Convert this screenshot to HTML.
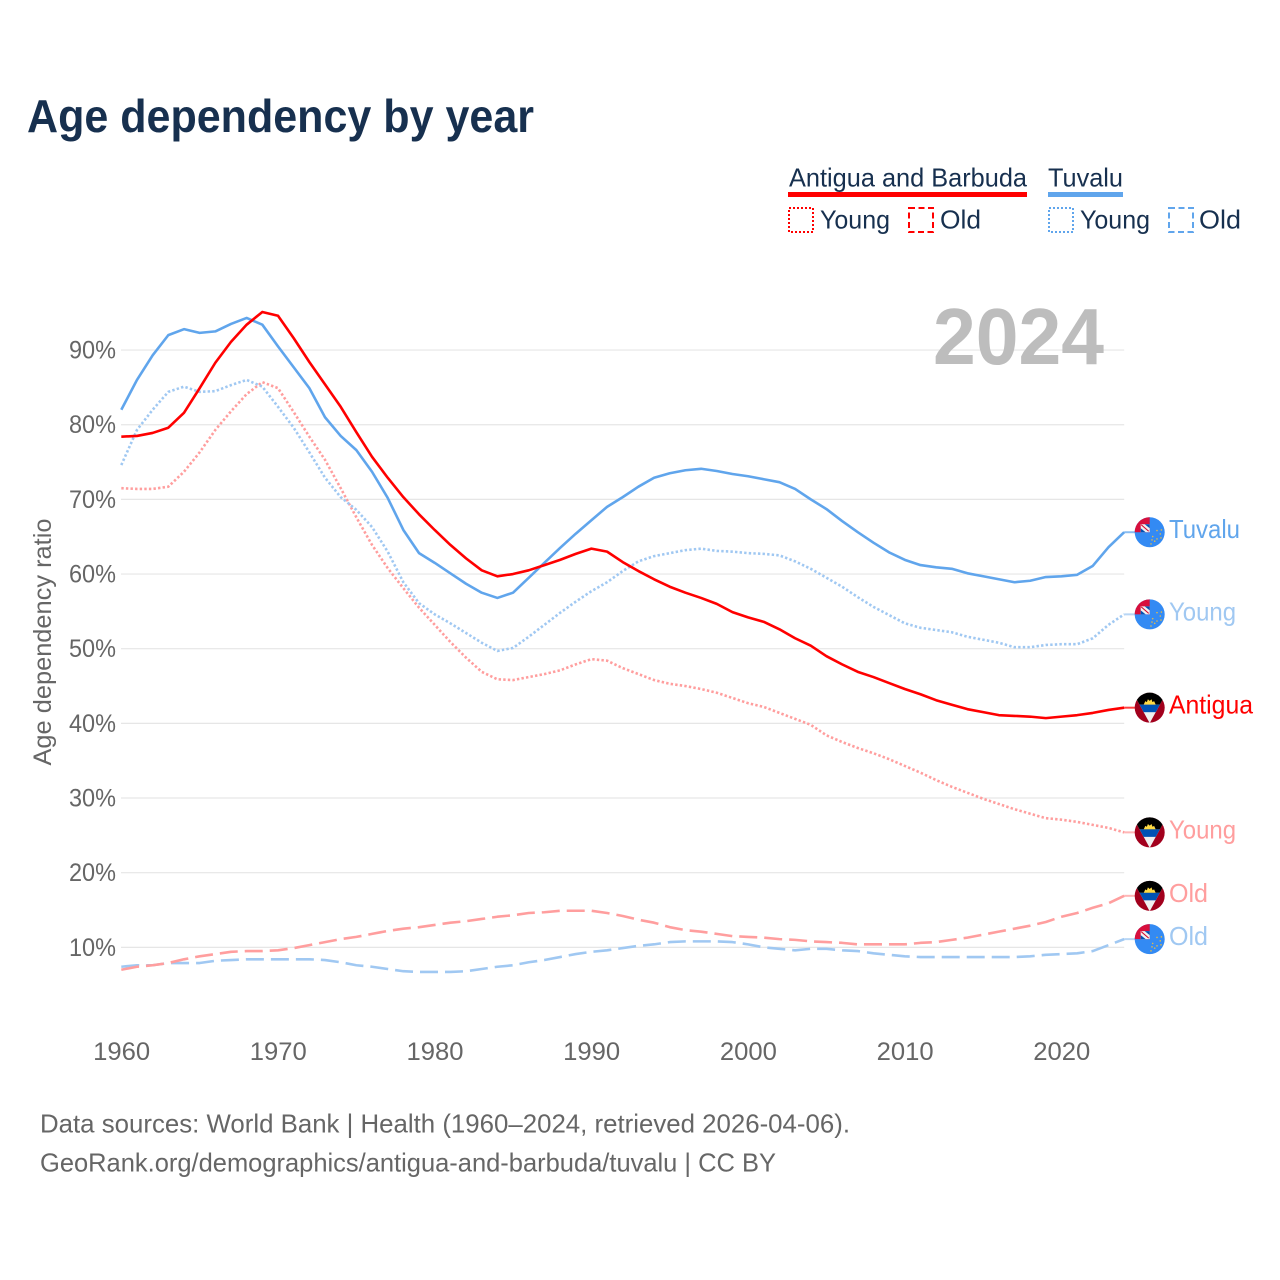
<!DOCTYPE html>
<html lang="en">
<head>
<meta charset="utf-8">
<title>Age dependency by year</title>
<style>
html,body{margin:0;padding:0;background:#fff;width:1280px;height:1280px;overflow:hidden}
svg{display:block}
text{font-family:"Liberation Sans",sans-serif}
</style>
</head>
<body>
<svg id="chart" width="1280" height="1280" viewBox="0 0 1280 1280" xmlns="http://www.w3.org/2000/svg">
  <defs>
    <clipPath id="flag-clip"><circle cx="0" cy="0" r="15"></circle></clipPath>
    <g id="flag-tuvalu" clip-path="url(#flag-clip)">
      <rect x="-16" y="-16" width="32" height="32" fill="#338af3"></rect>
      <rect x="-16" y="-16" width="16" height="16" fill="#d80f3c"></rect>
      <rect x="-9" y="-8" width="9" height="8" fill="#f0f0f0"></rect>
      <polygon points="-9,-4 -4,0 -9,0" fill="#0052b4"></polygon>
      <polygon points="-5,-8 0,-8 0,-4" fill="#0052b4"></polygon>
      <line x1="-8.5" y1="-7.5" x2="-1" y2="-1" stroke="#d80027" stroke-width="1"></line>
      <g fill="#e3b94a">
        <circle cx="7.3" cy="-1.7" r="0.8"></circle><circle cx="11.7" cy="-2.3" r="0.8"></circle>
        <circle cx="3" cy="4.3" r="0.8"></circle><circle cx="10.6" cy="1.7" r="0.8"></circle>
        <circle cx="7.3" cy="6.7" r="0.8"></circle><circle cx="2.3" cy="7.7" r="0.8"></circle>
        <circle cx="5" cy="9" r="0.8"></circle><circle cx="1.3" cy="11.7" r="0.8"></circle>
        <circle cx="11.3" cy="5.7" r="0.8"></circle>
      </g>
    </g>
    <g id="flag-antigua" clip-path="url(#flag-clip)">
      <rect x="-16" y="-16" width="32" height="32" fill="#a2001d"></rect>
      <polygon points="-17,-15.5 17,-15.5 0,15.5" fill="#f0f0f0"></polygon>
      <clipPath id="flag-tri"><polygon points="-17,-15.5 17,-15.5 0,15.5"></polygon></clipPath>
      <g clip-path="url(#flag-tri)">
        <rect x="-16" y="-16" width="32" height="13" fill="#000"></rect>
        <polygon points="-6,-3 -4.4,-6.5 -2.8,-5.6 -1.8,-8.4 0,-6.8 1.8,-8.4 2.8,-5.6 4.4,-6.5 6,-3" fill="#ffda44"></polygon>
        <rect x="-16" y="-3" width="32" height="7.5" fill="#0052b4"></rect>
      </g>
    </g>
  </defs>

  <text x="27" y="132" font-size="46" font-weight="700" fill="#17304f" textLength="507" lengthAdjust="spacingAndGlyphs">Age dependency by year</text>

  <g font-size="26" fill="#17304f">
    <text x="789" y="186.5" textLength="238" lengthAdjust="spacingAndGlyphs">Antigua and Barbuda</text>
    <rect x="788" y="192" width="239" height="5" fill="#ff0000"></rect>
    <text x="1048" y="186.5" textLength="75" lengthAdjust="spacingAndGlyphs">Tuvalu</text>
    <rect x="1048" y="192" width="75" height="5" fill="#60a5ec"></rect>
    <rect x="789" y="208" width="24" height="24" fill="none" stroke="#ff0000" stroke-width="2" stroke-dasharray="2 2"></rect>
    <text x="820" y="228.5" textLength="70" lengthAdjust="spacingAndGlyphs">Young</text>
    <rect x="909" y="208" width="24" height="24" fill="none" stroke="#ff0000" stroke-width="2" stroke-dasharray="6 3.5"></rect>
    <text x="940" y="228.5" textLength="41" lengthAdjust="spacingAndGlyphs">Old</text>
    <rect x="1049" y="208" width="24" height="24" fill="none" stroke="#60a5ec" stroke-width="2" stroke-dasharray="2 2"></rect>
    <text x="1080" y="228.5" textLength="70" lengthAdjust="spacingAndGlyphs">Young</text>
    <rect x="1169" y="208" width="24" height="24" fill="none" stroke="#60a5ec" stroke-width="2" stroke-dasharray="6 3.5"></rect>
    <text x="1199" y="228.5" textLength="42" lengthAdjust="spacingAndGlyphs">Old</text>
  </g>

  <g id="grid"></g>
  <g id="yticks"></g>
  <g id="xticks"></g>

  <text x="933" y="364" font-size="80" font-weight="700" fill="#bdbdbd" textLength="171" lengthAdjust="spacingAndGlyphs">2024</text>

  <text transform="translate(51,642) rotate(-90)" text-anchor="middle" font-size="25" fill="#666666" textLength="247" lengthAdjust="spacingAndGlyphs">Age dependency ratio</text>

  <g id="series"></g>
  <g id="endmarks"></g>

  <g font-size="26" fill="#666666">
    <text x="40" y="1132.5" textLength="810" lengthAdjust="spacingAndGlyphs">Data sources: World Bank | Health (1960–2024, retrieved 2026-04-06).</text>
    <text x="40" y="1171.5" textLength="736" lengthAdjust="spacingAndGlyphs">GeoRank.org/demographics/antigua-and-barbuda/tuvalu | CC BY</text>
  </g>
</svg>

<script>
const firstYear = 1960;
const xTickYears = [1960, 1970, 1980, 1990, 2000, 2010, 2020];
const yTickValues = [10, 20, 30, 40, 50, 60, 70, 80, 90];

const tuvaluTotal = [82.0,86.0,89.3,92.0,92.8,92.3,92.5,93.5,94.3,93.4,
  90.5,87.7,84.9,81.0,78.5,76.6,73.7,70.2,65.9,62.8,
  61.5,60.1,58.7,57.5,56.8,57.5,59.5,61.5,63.5,65.4,
  67.2,69.0,70.3,71.7,72.9,73.5,73.9,74.1,73.8,73.4,
  73.1,72.7,72.3,71.4,70.0,68.7,67.1,65.6,64.2,62.9,
  61.9,61.2,60.9,60.7,60.1,59.7,59.3,58.9,59.1,59.6,
  59.7,59.9,61.1,63.6,65.6];
const tuvaluYoung = [74.6,79.3,82.0,84.4,85.1,84.4,84.5,85.3,86.0,85.1,
  82.4,79.6,76.3,72.9,70.3,68.6,66.3,63.0,58.9,56.1,
  54.6,53.4,52.1,50.8,49.7,50.1,51.6,53.2,54.8,56.3,
  57.7,58.9,60.4,61.7,62.4,62.8,63.2,63.4,63.1,63.0,
  62.8,62.7,62.5,61.7,60.7,59.5,58.3,56.9,55.6,54.5,
  53.4,52.8,52.5,52.2,51.6,51.2,50.8,50.2,50.2,50.5,
  50.6,50.6,51.4,53.2,54.6];
const tuvaluOld = [7.4,7.6,7.6,7.9,7.9,7.9,8.2,8.3,8.4,8.4,
  8.4,8.4,8.4,8.3,8.0,7.6,7.4,7.1,6.8,6.7,
  6.7,6.7,6.8,7.1,7.4,7.6,8.0,8.3,8.7,9.1,
  9.4,9.6,9.9,10.2,10.4,10.7,10.8,10.8,10.8,10.7,
  10.4,10.0,9.8,9.6,9.8,9.8,9.6,9.5,9.2,9.0,
  8.8,8.7,8.7,8.7,8.7,8.7,8.7,8.7,8.8,9.0,
  9.1,9.2,9.5,10.3,11.1];
const antiguaTotal = [78.4,78.5,78.9,79.6,81.6,84.9,88.3,91.1,93.4,95.1,
  94.6,91.6,88.4,85.4,82.4,79.0,75.7,72.9,70.3,68.0,
  65.9,63.9,62.1,60.5,59.7,60.0,60.5,61.2,61.9,62.7,
  63.4,63.0,61.6,60.4,59.3,58.3,57.5,56.8,56.0,54.9,
  54.2,53.6,52.6,51.4,50.4,49.0,47.9,46.9,46.2,45.4,
  44.6,43.9,43.1,42.5,41.9,41.5,41.1,41.0,40.9,40.7,
  40.9,41.1,41.4,41.8,42.1];
const antiguaYoung = [71.5,71.4,71.4,71.7,73.7,76.3,79.3,81.8,84.1,85.7,
  84.9,81.7,78.4,75.3,71.5,67.6,63.9,60.8,58.1,55.5,
  53.2,50.9,48.8,46.9,45.9,45.8,46.2,46.6,47.1,47.9,
  48.6,48.4,47.4,46.6,45.8,45.3,45.0,44.6,44.1,43.4,
  42.7,42.2,41.4,40.6,39.8,38.4,37.5,36.7,36.0,35.2,
  34.3,33.4,32.4,31.5,30.7,29.9,29.2,28.5,27.9,27.3,
  27.1,26.8,26.4,26.0,25.4];
const antiguaOld = [7.0,7.4,7.6,7.9,8.4,8.8,9.1,9.4,9.5,9.5,
  9.6,9.9,10.3,10.7,11.1,11.4,11.8,12.2,12.5,12.7,
  13.0,13.3,13.5,13.8,14.1,14.3,14.6,14.7,14.9,14.9,
  14.9,14.6,14.2,13.7,13.3,12.7,12.3,12.1,11.8,11.5,
  11.4,11.3,11.1,11.0,10.8,10.7,10.6,10.4,10.4,10.4,
  10.4,10.6,10.7,11.0,11.3,11.7,12.1,12.5,12.9,13.4,
  14.1,14.6,15.3,15.9,16.9];

const NS = 'http://www.w3.org/2000/svg';
function xScale(year) { return 121.3 + (year - firstYear) * 15.67; }
function yScale(value) { return 1022 - value * 7.466; }
function make(tag, parent) {
  const el = document.createElementNS(NS, tag);
  parent.appendChild(el);
  return el;
}

const gridGroup = document.getElementById('grid');
const yTickGroup = document.getElementById('yticks');
const xTickGroup = document.getElementById('xticks');
const seriesGroup = document.getElementById('series');
const endGroup = document.getElementById('endmarks');

yTickValues.forEach(function (v) {
  const line = make('line', gridGroup);
  
  
  line.setAttribute('x1', 121);
  line.setAttribute('x2', xScale(2024));
  line.setAttribute('y1', yScale(v));
  line.setAttribute('y2', yScale(v));
  line.setAttribute('stroke', '#e6e6e6');
  line.setAttribute('stroke-width', '1.2');
  const label = make('text', yTickGroup);
  
  
  label.setAttribute('x', 69);
  label.setAttribute('y', yScale(v) + 8.5);
  label.setAttribute('font-size', '25');
  label.setAttribute('fill', '#666666');
  label.setAttribute('textLength', '47');
  label.setAttribute('lengthAdjust', 'spacingAndGlyphs');
  label.textContent = v + '%';
});

xTickYears.forEach(function (y) {
  const label = make('text', xTickGroup);
  
  
  label.setAttribute('x', xScale(y) - 28.2);
  label.setAttribute('y', 1060);
  label.setAttribute('font-size', '25');
  label.setAttribute('fill', '#666666');
  label.setAttribute('textLength', '57');
  label.setAttribute('lengthAdjust', 'spacingAndGlyphs');
  label.textContent = String(y);
});

function drawSeries(values, color, dash, seriesName) {
  const path = make('path', seriesGroup);
  
  
  const d = values.map(function (v, i) {
    return (i ? 'L' : 'M') + xScale(firstYear + i).toFixed(2) + ' ' + yScale(v).toFixed(2);
  }).join(' ');
  path.setAttribute('d', d);
  path.setAttribute('fill', 'none');
  path.setAttribute('stroke', color);
  path.setAttribute('stroke-width', '2.6');
  path.setAttribute('stroke-linejoin', 'round');
  if (dash) path.setAttribute('stroke-dasharray', dash);
}

function drawEnd(values, color, flagId, text, width) {
  const last = values[values.length - 1];
  const y = yScale(last);
  const connector = make('line', endGroup);
  
  
  connector.setAttribute('x1', xScale(2024));
  connector.setAttribute('x2', 1136);
  connector.setAttribute('y1', y);
  connector.setAttribute('y2', y);
  connector.setAttribute('stroke', color);
  connector.setAttribute('stroke-width', '2');
  connector.setAttribute('stroke-opacity', '0.75');
  const flag = make('use', endGroup);
  
  
  flag.setAttribute('href', '#' + flagId);
  flag.setAttribute('x', 1149.7);
  flag.setAttribute('y', y);
  const label = make('text', endGroup);
  
  
  label.setAttribute('x', 1169);
  label.setAttribute('y', y + 6);
  label.setAttribute('font-size', '26');
  label.setAttribute('fill', color);
  label.setAttribute('textLength', width);
  label.setAttribute('lengthAdjust', 'spacingAndGlyphs');
  label.textContent = text;
}

const red = '#ff0000', blue = '#60a5ec', lightRed = '#ff9e9e', lightBlue = '#a0c8f2';
const dotted = '2.4 2.2', dashed = '18 7';

drawSeries(tuvaluOld, lightBlue, dashed, 'tuvalu-old-line');
drawSeries(antiguaOld, lightRed, dashed, 'antigua-old-line');
drawSeries(antiguaYoung, lightRed, dotted, 'antigua-young-line');
drawSeries(tuvaluYoung, lightBlue, dotted, 'tuvalu-young-line');
drawSeries(tuvaluTotal, blue, '', 'tuvalu-total-line');
drawSeries(antiguaTotal, red, '', 'antigua-total-line');

drawEnd(tuvaluTotal, blue, 'flag-tuvalu', 'Tuvalu', 71);
drawEnd(tuvaluYoung, lightBlue, 'flag-tuvalu', 'Young', 67);
drawEnd(antiguaTotal, red, 'flag-antigua', 'Antigua', 84);
drawEnd(antiguaYoung, lightRed, 'flag-antigua', 'Young', 67);
drawEnd(antiguaOld, lightRed, 'flag-antigua', 'Old', 39);
drawEnd(tuvaluOld, lightBlue, 'flag-tuvalu', 'Old', 39);
</script>
</body>
</html>
